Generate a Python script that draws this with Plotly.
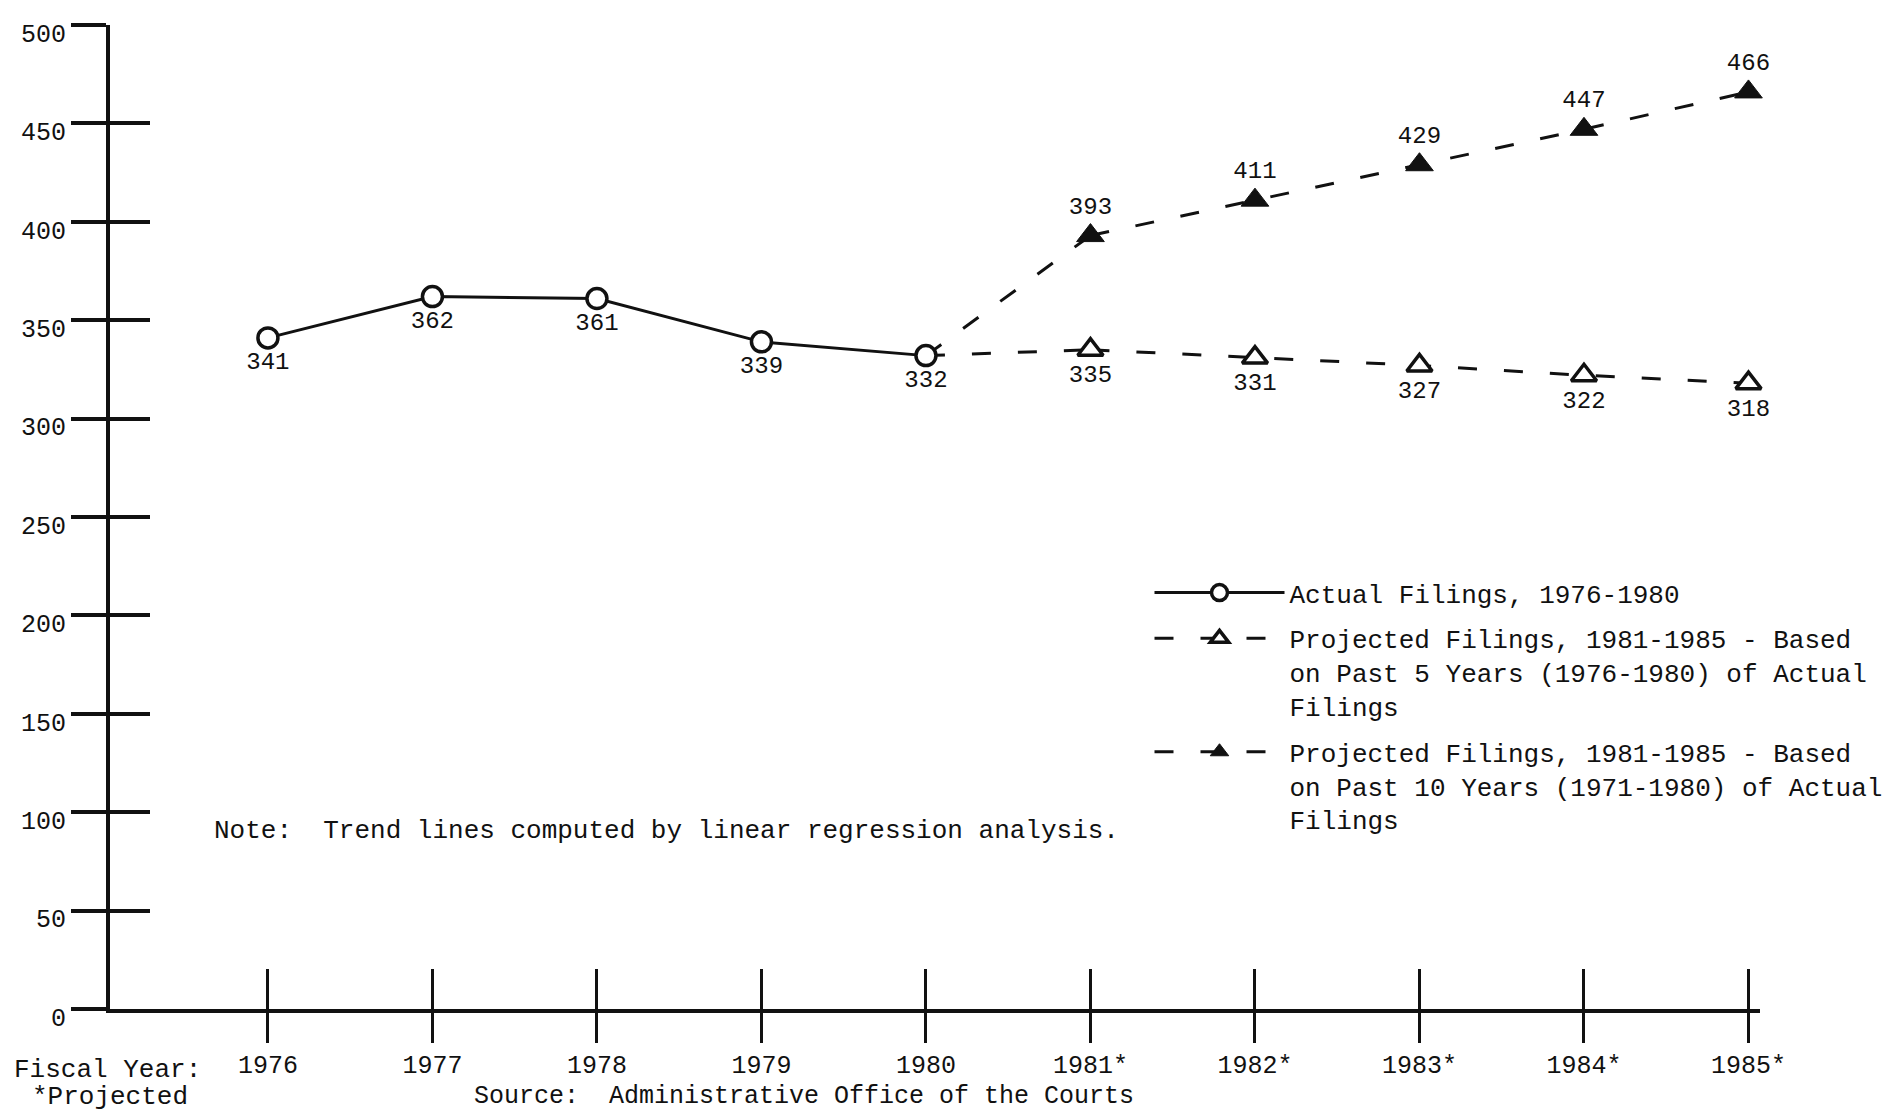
import plotly.graph_objects as go

# ---------------- data ----------------
years = [1976, 1977, 1978, 1979, 1980, 1981, 1982, 1983, 1984, 1985]
year_labels = ["1976", "1977", "1978", "1979", "1980",
               "1981*", "1982*", "1983*", "1984*", "1985*"]
actual_years = [1976, 1977, 1978, 1979, 1980]
actual_filings = [341, 362, 361, 339, 332]
proj_years = [1981, 1982, 1983, 1984, 1985]
proj_5yr = [335, 331, 327, 322, 318]
proj_10yr = [393, 411, 429, 447, 466]
y_ticks = [0, 50, 100, 150, 200, 250, 300, 350, 400, 450, 500]

name_actual = "Actual Filings, 1976-1980"
name_5yr = "Projected Filings, 1981-1985 - Based<br>on Past 5 Years (1976-1980) of Actual<br>Filings"
name_10yr = "Projected Filings, 1981-1985 - Based<br>on Past 10 Years (1971-1980) of Actual<br>Filings"

FONT = "Liberation Mono"
INK = "#111111"
DASH = "19px,27px"

fig = go.Figure()

# connectors from last actual point to first projected points
for proj in (proj_5yr, proj_10yr):
    fig.add_trace(go.Scatter(
        x=[actual_years[-1], proj_years[0]], y=[actual_filings[-1], proj[0]],
        mode="lines", line=dict(color=INK, width=3, dash=DASH),
        showlegend=False, hoverinfo="skip"))

fig.add_trace(go.Scatter(
    x=proj_years, y=proj_5yr, name=name_5yr, legendrank=2, legendgroup="b",
    mode="lines+markers+text", text=[str(v) for v in proj_5yr],
    textposition="bottom center", cliponaxis=False,
    textfont=dict(family=FONT, size=24, color=INK),
    line=dict(color=INK, width=3, dash=DASH),
    marker=dict(symbol="triangle-up", size=22, color="white",
                line=dict(color=INK, width=3.5))))

fig.add_trace(go.Scatter(
    x=proj_years, y=proj_10yr, name=name_10yr, legendrank=3, legendgroup="c",
    mode="lines+markers+text", text=[str(v) for v in proj_10yr],
    textposition="top center", cliponaxis=False,
    textfont=dict(family=FONT, size=24, color=INK),
    line=dict(color=INK, width=3, dash=DASH),
    marker=dict(symbol="triangle-up", size=24, color=INK,
                line=dict(color=INK, width=1))))

fig.add_trace(go.Scatter(
    x=actual_years, y=actual_filings, name=name_actual, legendrank=1,
    legendgroup="a",
    mode="lines+markers+text", text=[str(v) for v in actual_filings],
    textposition="bottom center", cliponaxis=False,
    textfont=dict(family=FONT, size=24, color=INK),
    line=dict(color=INK, width=3),
    marker=dict(symbol="circle", size=20, color="white",
                line=dict(color=INK, width=3.5))))

# invisible trace on overlay axes (gives the crossing tick marks)
fig.add_trace(go.Scatter(
    x=actual_years, y=actual_filings, xaxis="x2", yaxis="y2",
    mode="markers", marker=dict(opacity=0), showlegend=False,
    hoverinfo="skip"))

x_range = [1975.04, 1985.07]
y_range = [0, 500]

fig.update_layout(
    width=1902, height=1111,
    margin=dict(l=110, r=142, t=25, b=102, autoexpand=False),
    paper_bgcolor="white", plot_bgcolor="white",
    font=dict(family=FONT, size=25, color=INK),
    showlegend=True,
    legend=dict(x=0.630, y=0.447, xanchor="left", yanchor="top",
                font=dict(family=FONT, size=26, color=INK),
                itemwidth=130, valign="top", traceorder="grouped",
                bgcolor="rgba(0,0,0,0)", tracegroupgap=9),
    xaxis=dict(range=x_range, tickmode="array", tickvals=years,
               ticktext=year_labels, ticks="outside", ticklen=30,
               tickwidth=3, tickcolor=INK, showline=True, linewidth=4,
               linecolor=INK, showgrid=False, zeroline=False,
               tickfont=dict(family=FONT, size=25, color=INK)),
    xaxis2=dict(range=x_range, overlaying="x", anchor="y", side="bottom",
                tickmode="array", tickvals=years, ticks="inside",
                ticklen=40, tickwidth=3, tickcolor=INK,
                showticklabels=False, showline=False, showgrid=False,
                zeroline=False),
    yaxis=dict(range=y_range, tickmode="array", tickvals=y_ticks,
               ticks="outside", ticklen=35, tickwidth=3.5, tickcolor=INK,
               showline=True, linewidth=4, linecolor=INK, showgrid=False,
               zeroline=False, ticklabelshift=8,
               tickfont=dict(family=FONT, size=25, color=INK)),
    yaxis2=dict(range=y_range, overlaying="y", anchor="x", side="left",
                tickmode="array", tickvals=y_ticks, ticks="inside",
                ticklen=40, tickwidth=3.5, tickcolor=INK,
                showticklabels=False, showline=False, showgrid=False,
                zeroline=False),
)

notes = [
    ("Note:  Trend lines computed by linear regression analysis.", 0.0618, 0.181, 26),
    ("Fiscal Year:", -0.0594, -0.062, 26),
    ("*Projected", -0.0485, -0.089, 26),
    ("Source:  Administrative Office of the Courts", 0.2194, -0.0885, 25),
]
for txt, xp, yp, sz in notes:
    fig.add_annotation(text=txt, xref="paper", yref="paper", x=xp, y=yp,
                       xanchor="left", yanchor="middle", showarrow=False,
                       font=dict(family=FONT, size=sz, color=INK))

fig.write_html("out.html", config={"displayModeBar": False},
               post_script="document.body.style.margin='0';")
